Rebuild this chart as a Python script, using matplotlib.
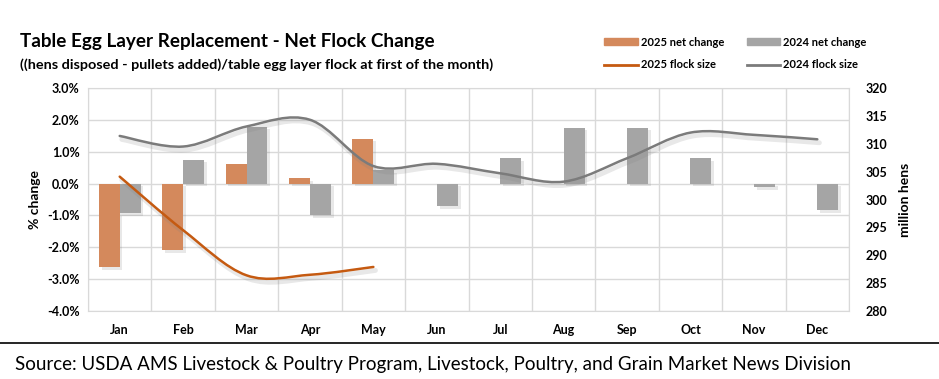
import numpy as np
import matplotlib.pyplot as plt
from matplotlib.path import Path
from matplotlib.patches import PathPatch, Patch
from matplotlib.lines import Line2D
import matplotlib.patheffects as pe

plt.rcParams['font.family'] = ['Lato', 'DejaVu Sans']

months = ['Jan', 'Feb', 'Mar', 'Apr', 'May', 'Jun', 'Jul', 'Aug', 'Sep', 'Oct', 'Nov', 'Dec']
net_2025 = [-2.63, -2.09, 0.62, 0.16, 1.41]
net_2024 = [-0.93, 0.75, 1.79, -1.00, 0.43, -0.70, 0.80, 1.76, 1.76, 0.80, -0.12, -0.83]
flock_2025 = [304.1, 294.5, 286.4, 286.5, 287.9]
flock_2024 = [311.4, 309.5, 313.1, 314.3, 306.0, 306.4, 304.7, 303.2, 307.4, 312.0, 311.6, 310.8]

c_bar25 = '#D4895C'
c_bar24 = '#A5A5A5'
c_line25 = '#C55A11'
c_line24 = '#7B7B7B'


def smooth_path(xs, ys):
    # excel-style smoothed line as cubic bezier segments
    pts = np.column_stack([xs, ys]).astype(float)
    n = len(pts)
    verts = [pts[0]]
    codes = [Path.MOVETO]
    for i in range(n - 1):
        p_prev = pts[i - 1] if i > 0 else pts[i]
        p_next2 = pts[i + 2] if i + 2 < n else pts[i + 1]
        c1 = pts[i] + (pts[i + 1] - p_prev) / 6
        c2 = pts[i + 1] - (p_next2 - pts[i]) / 6
        verts += [c1, c2, pts[i + 1]]
        codes += [Path.CURVE4] * 3
    return Path(verts, codes)


fig = plt.figure(figsize=(9.39, 3.79), dpi=100)
ax = fig.add_axes([0.0937, 0.1794, 0.8105, 0.5884])
ax2 = ax.twinx()

x = np.arange(len(months))
w = 0.33
shadow = [pe.SimplePatchShadow(offset=(2, -2), alpha=0.18, shadow_rgbFace='gray'), pe.Normal()]
b25 = ax.bar(x[:len(net_2025)] - w / 2, net_2025, w, color=c_bar25, zorder=3)
b24 = ax.bar(x + w / 2, net_2024, w, color=c_bar24, zorder=3)
for b in list(b25) + list(b24):
    b.set_path_effects(shadow)

ax.set_xlim(-0.5, 11.5)
ax.set_ylim(-4, 3)
ax.set_yticks(np.arange(-4, 3.1, 1))
ax.set_yticklabels([f'{v:.1f}%' for v in np.arange(-4, 3.1, 1)], fontsize=9, fontweight='bold')
ax.set_xticks(x)
ax.set_xticklabels(months, fontsize=9, fontweight='bold')
ax.set_xticks(np.arange(-0.5, 12, 1), minor=True)
ax.tick_params(axis='x', which='both', length=0, pad=9)
ax.tick_params(axis='y', length=0, pad=6)
ax.grid(True, axis='y', color='#D9D9D9', lw=1, zorder=0)
ax.grid(True, axis='x', which='minor', color='#D9D9D9', lw=1, zorder=0)
ax.grid(False, axis='x', which='major')
for s in ax.spines.values():
    s.set_color('#D9D9D9')
ax.set_ylabel('% change', fontsize=10, fontweight='bold', labelpad=4)

ax2.set_ylim(280, 320)
ax2.set_yticks(np.arange(280, 321, 5))
ax2.set_yticklabels([str(v) for v in range(280, 321, 5)], fontsize=9, fontweight='bold')
ax2.tick_params(axis='y', length=0, pad=12)
for s in ax2.spines.values():
    s.set_visible(False)
ax2.set_ylabel('million hens', fontsize=10, fontweight='bold', labelpad=8)

for ys, col in [(flock_2024, c_line24), (flock_2025, c_line25)]:
    p = PathPatch(smooth_path(x[:len(ys)], ys), facecolor='none', edgecolor=col, lw=1.8,
                  capstyle='round', zorder=4)
    p.set_path_effects([pe.Stroke(offset=(1.5, -2.5), linewidth=3.5, foreground='gray', alpha=0.18),
                        pe.Normal()])
    ax2.add_patch(p)

fig.text(0.021, 0.875, 'Table Egg Layer Replacement - Net Flock Change', fontsize=13.6, fontweight='bold')
fig.text(0.021, 0.818, '((hens disposed - pullets added)/table egg layer flock at first of the month)',
         fontsize=10.4, fontweight='bold')

handles = [Patch(color=c_bar25), Line2D([], [], color=c_line25, lw=2),
           Patch(color=c_bar24), Line2D([], [], color=c_line24, lw=2)]
labels = ['2025 net change', '2025 flock size', '2024 net change', '2024 flock size']
fig.legend(handles, labels, ncol=2, loc='upper left', bbox_to_anchor=(0.633, 0.93), frameon=False,
           prop={'size': 8, 'weight': 'bold'}, handlelength=3.0, handleheight=0.5,
           handletextpad=0.3, columnspacing=2.0, labelspacing=1.05)

fig.add_artist(Line2D([0, 1], [0.095, 0.095], color='black', lw=1.2, transform=fig.transFigure))
fig.text(0.016, 0.025, 'Source: USDA AMS Livestock & Poultry Program, Livestock, Poultry, and Grain Market News Division',
         fontsize=13.5)

fig.savefig('out.png', dpi=100)
